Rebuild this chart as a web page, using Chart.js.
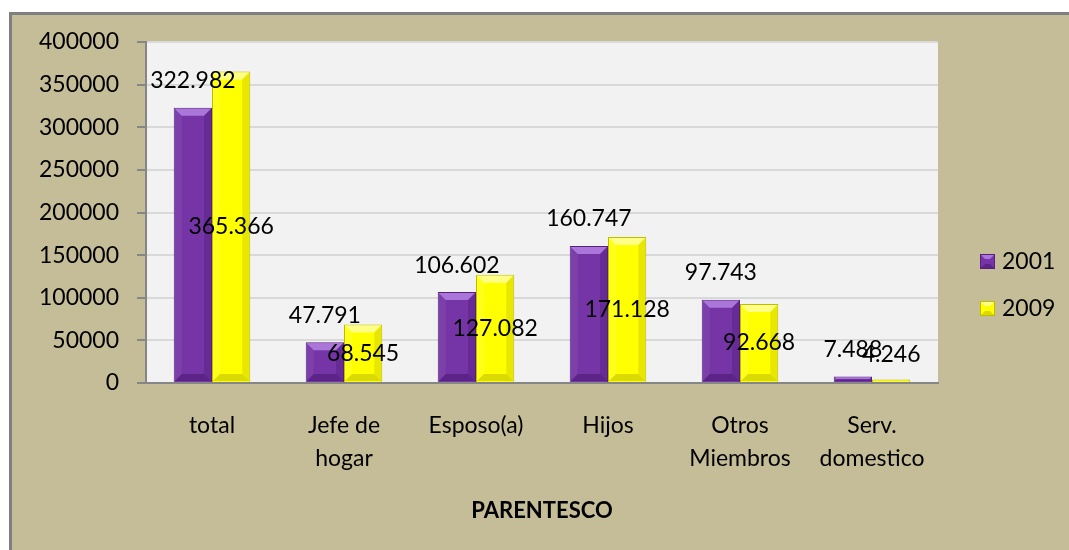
<!DOCTYPE html>
<html>
<head>
<meta charset="utf-8">
<script src="https://cdn.jsdelivr.net/npm/chart.js@4/dist/chart.umd.min.js"></script>
<style>
  html, body { margin: 0; padding: 0; background: #fff; }
  #frame {
    position: absolute; left: 9px; top: 12px; width: 1070px; height: 550px;
    background: #c4bd97; border-left: 3px solid #7f7f7f; border-top: 3px solid #7f7f7f;
  }
  #wrap { position: absolute; left: 0; top: 0; width: 1069px; height: 550px; }
</style>
</head>
<body>
<div id="frame"></div>
<div id="wrap"><canvas id="chart" width="1069" height="550"></canvas></div>
<script>
const CATEGORIES = ["total", ["Jefe de", "hogar"], "Esposo(a)", "Hijos", ["Otros", "Miembros"], ["Serv.", "domestico"]];
const SERIES_NAMES = ["2001", "2009"];
const VALUES_2001 = [322982, 47791, 106602, 160747, 97743, 7488];
const VALUES_2009 = [365366, 68545, 127082, 171128, 92668, 4246];
const Y_MAX = 400000;
const Y_STEP = 50000;
const AXIS_TITLE = "PARENTESCO";

const FONT = "Lato, 'Open Sans', sans-serif";
const PURPLE = "#7535a6";
const YELLOW = "#ffff00";
// bevel faces per series: top, bottom, left, right
const BEVELS = [
  ["rgba(190,140,235,0.75)", "rgba(60,15,95,0.45)", "rgba(255,255,255,0.06)", "rgba(40,0,70,0.18)"],
  ["rgba(255,255,170,0.8)", "rgba(150,150,0,0.35)", "rgba(255,255,255,0.1)", "rgba(120,120,0,0.18)"],
];

// "322982" -> "322.982" (dot thousands separator, as in the source sheet)
function fmt(v) {
  return String(v).replace(/\B(?=(\d{3})+(?!\d))/g, ".");
}

const plotBackground = {
  id: "plotBackground",
  beforeDraw(chart) {
    const { ctx, chartArea: a } = chart;
    ctx.save();
    ctx.fillStyle = "#f2f2f2";
    ctx.fillRect(a.left, a.top, a.right - a.left, a.bottom - a.top);
    ctx.restore();
  },
};

function poly(ctx, pts, color) {
  ctx.fillStyle = color;
  ctx.beginPath();
  ctx.moveTo(pts[0][0], pts[0][1]);
  pts.slice(1).forEach((p) => ctx.lineTo(p[0], p[1]));
  ctx.closePath();
  ctx.fill();
}

// Soft bevel on each bar, like Excel's 3-D "circle" bevel.
const barBevel = {
  id: "barBevel",
  afterDatasetsDraw(chart) {
    const { ctx } = chart;
    ctx.save();
    chart.data.datasets.forEach((ds, di) => {
      const [top, bottom, left, right] = BEVELS[di];
      chart.getDatasetMeta(di).data.forEach((bar) => {
        const x0 = bar.x - bar.width / 2 + 1;
        const x1 = bar.x + bar.width / 2 - 1;
        const y0 = bar.y + 1;
        const y1 = bar.base - 1;
        const b = Math.min(7, (x1 - x0) / 2, (y1 - y0) / 2);
        if (b <= 0) return;
        poly(ctx, [[x0, y0], [x1, y0], [x1 - b, y0 + b], [x0 + b, y0 + b]], top);
        poly(ctx, [[x0, y1], [x1, y1], [x1 - b, y1 - b], [x0 + b, y1 - b]], bottom);
        poly(ctx, [[x0, y0], [x0 + b, y0 + b], [x0 + b, y1 - b], [x0, y1]], left);
        poly(ctx, [[x1, y0], [x1 - b, y0 + b], [x1 - b, y1 - b], [x1, y1]], right);
      });
    });
    ctx.restore();
  },
};

// Excel-style labels: 2001 sits above its bar, 2009 sits in the middle of its bar.
const valueLabels = {
  id: "valueLabels",
  afterDatasetsDraw(chart) {
    const { ctx } = chart;
    ctx.save();
    ctx.font = "23px " + FONT;
    ctx.fillStyle = "#000";
    ctx.textAlign = "center";
    ctx.textBaseline = "middle";
    chart.data.datasets.forEach((ds, di) => {
      chart.getDatasetMeta(di).data.forEach((bar, i) => {
        const y = di === 0 ? bar.y - 27 : Math.min((bar.y + bar.base) / 2, bar.base - 27);
        ctx.fillText(fmt(ds.data[i]), bar.x, y);
      });
    });
    ctx.restore();
  },
};

const sideLegend = {
  id: "sideLegend",
  afterDraw(chart) {
    const { ctx } = chart;
    ctx.save();
    ctx.font = "23px " + FONT;
    ctx.textBaseline = "middle";
    chart.data.datasets.forEach((ds, i) => {
      const cy = 262 + i * 47;
      ctx.fillStyle = ds.backgroundColor;
      ctx.fillRect(980, cy - 8, 15, 15);
      poly(ctx, [[981, cy - 7], [994, cy - 7], [990, cy - 3], [985, cy - 3]], BEVELS[i][0]);
      poly(ctx, [[981, cy + 6], [994, cy + 6], [990, cy + 2], [985, cy + 2]], BEVELS[i][1]);
      ctx.strokeStyle = ds.borderColor;
      ctx.lineWidth = 1;
      ctx.strokeRect(980.5, cy - 7.5, 14, 14);
      ctx.fillStyle = "#000";
      ctx.fillText(ds.label, 1002, cy);
    });
    ctx.restore();
  },
};

new Chart(document.getElementById("chart"), {
  type: "bar",
  data: {
    labels: CATEGORIES,
    datasets: [
      { label: SERIES_NAMES[0], data: VALUES_2001, backgroundColor: PURPLE, borderColor: "#55207e", borderWidth: 1 },
      { label: SERIES_NAMES[1], data: VALUES_2009, backgroundColor: YELLOW, borderColor: "#bdbd00", borderWidth: 1 },
    ],
  },
  options: {
    responsive: false,
    animation: false,
    layout: { padding: { top: 42, right: 131, left: 0, bottom: 0 } },
    datasets: { bar: { categoryPercentage: 0.58, barPercentage: 1 } },
    plugins: { legend: { display: false }, tooltip: { enabled: false } },
    scales: {
      x: {
        afterFit: (s) => { s.height = 167; },
        grid: { drawOnChartArea: false, drawTicks: false },
        border: { color: "#868686", width: 2 },
        ticks: { color: "#000", font: { family: FONT, size: 23, lineHeight: 1.45 }, padding: 26, maxRotation: 0 },
        title: {
          display: true,
          text: AXIS_TITLE,
          color: "#000",
          font: { family: FONT, size: 22, weight: "bold" },
          padding: { top: 0, bottom: 26 },
        },
      },
      y: {
        min: 0,
        max: Y_MAX,
        afterFit: (s) => { s.width = 146; },
        grid: { color: "#d9d9d9", lineWidth: 2, tickColor: "#868686", tickLength: 9 },
        border: { color: "#868686", width: 2 },
        ticks: { stepSize: Y_STEP, color: "#000", font: { family: FONT, size: 23 }, padding: 18, callback: (v) => String(v) },
      },
    },
  },
  plugins: [plotBackground, barBevel, valueLabels, sideLegend],
});
</script>
</body>
</html>
